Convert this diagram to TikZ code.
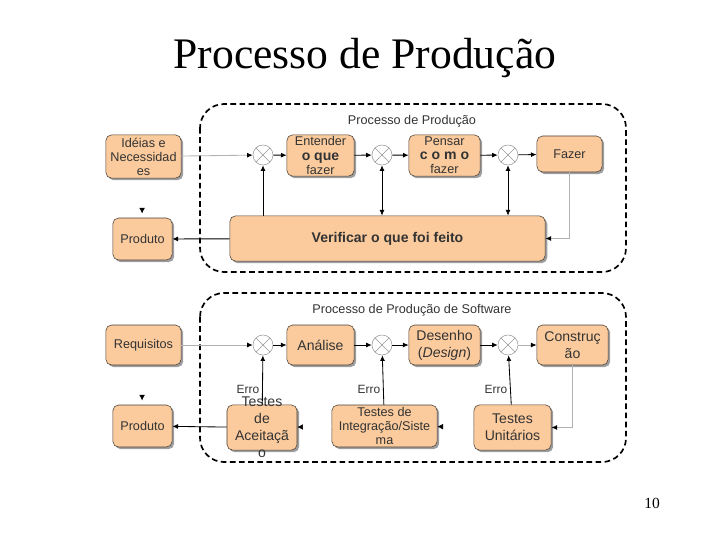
\documentclass[tikz,border=0pt]{standalone}
\usepackage{fontspec}
\setmainfont{Liberation Serif}
\setsansfont{Liberation Sans}
\usetikzlibrary{arrows.meta,shadows}

\definecolor{boxfill}{HTML}{FBCB9D}
\definecolor{boxline}{HTML}{4A3F36}
\definecolor{boxtext}{HTML}{333333}

\tikzset{
  box/.style={draw=boxline, fill=boxfill, rounded corners=4pt, align=center,
    inner sep=0pt, text=boxtext, font=\sffamily\fontsize{9}{10}\selectfont,
    drop shadow={shadow xshift=1.5pt, shadow yshift=-1.5pt, fill=gray!85, opacity=0.9}},
  sumnode/.style={circle, draw=gray!80, fill=white, minimum size=0.5cm, inner sep=0pt,
    path picture={
      \draw[gray!80] (path picture bounding box.north west) -- (path picture bounding box.south east);
      \draw[gray!80] (path picture bounding box.north east) -- (path picture bounding box.south west);
    }},
  frame/.style={draw, line width=1.2pt, dash pattern=on 4pt off 2.5pt, rounded corners=0.6cm},
  framelabel/.style={font=\sffamily\fontsize{9}{10}\selectfont, text=boxtext},
  link/.style={->, line width=0.6pt, >={Latex[length=4pt, width=3.5pt]}},
  faint/.style={link, draw=gray!60, >={Latex[length=4pt, width=3.5pt, color=black]}},
  ghost/.style={->, draw=white, >={Latex[length=4pt, width=4pt, color=black]}},
  errlabel/.style={font=\sffamily\fontsize{8.5}{9}\selectfont, text=boxtext, left, inner sep=2pt}
}

\begin{document}
\begin{tikzpicture}[x=0.025cm, y=-0.025cm]
    \useasboundingbox (0,0) rectangle (720,540);

    % Title and page number
    \node[font=\fontsize{31}{36}\selectfont] (title) at (365,58) {Processo de Produção};
    \node[font=\fontsize{11}{13}\selectfont] (page) at (652,503) {10};

    % Frames
    \draw[frame] (200,104) rectangle (626,272);
    \draw[frame] (200,293) rectangle (626,462);
    \node[framelabel] (lbltop) at (412,121) {Processo de Produção};
    \node[framelabel] (lblbot) at (412,310) {Processo de Produção de Software};

    % Upper process
    \node[box, minimum width=1.88cm, minimum height=1.08cm] (ideias) at (143.5,156.5) {Idéias e\\Necessidad\\es};
    \node[box, minimum width=1.48cm, minimum height=1.05cm] (produtoA) at (142.5,239) {Produto};
    \node[sumnode] (sumA1) at (263,155) {};
    \node[box, minimum width=1.68cm, minimum height=1.03cm] (entender) at (320.5,155.5) {Entender\\{\fontsize{10}{10}\selectfont\bfseries o que}\\fazer};
    \node[sumnode] (sumA2) at (382,155) {};
    \node[box, minimum width=1.78cm, minimum height=1.03cm] (pensar) at (444.5,155.5) {Pensar\\{\fontsize{10}{10}\selectfont\bfseries c o m o}\\fazer};
    \node[sumnode] (sumA3) at (508,155) {};
    \node[box, minimum width=1.63cm, minimum height=0.9cm] (fazer) at (569.5,154) {Fazer};
    \node[box, minimum width=7.88cm, minimum height=1.13cm, font=\sffamily\bfseries\fontsize{10}{12}\selectfont] (verificar) at (387.5,238.5) {Verificar o que foi feito};
    \coordinate (markA) at (142,202);

    % Upper connectors
    \draw[faint] (ideias) -- (sumA1);
    \draw[link] (sumA1) -- (entender);
    \draw[link] (entender) -- (sumA2);
    \draw[link] (sumA2) -- (pensar);
    \draw[link] (pensar) -- (sumA3);
    \draw[link] (sumA3) -- (fazer);
    \draw[link] (sumA1 |- verificar.north) -- (sumA1);
    \draw[link, <->] (sumA2) -- (sumA2 |- verificar.north);
    \draw[link, <->] (sumA3) -- (sumA3 |- verificar.north);
    \draw[faint] (fazer) |- (verificar);
    \draw[link] (verificar) -- (produtoA);
    \draw[ghost, shorten >=3pt] (markA) -- (produtoA);

    % Lower process
    \node[box, minimum width=1.88cm, minimum height=1.0cm] (requisitos) at (143.5,345) {Requisitos};
    \node[box, minimum width=1.48cm, minimum height=1.05cm] (produtoB) at (142.5,426) {Produto};
    \node[sumnode] (sumB1) at (263,345) {};
    \node[box, minimum width=1.68cm, minimum height=1.0cm, font=\sffamily\fontsize{10}{11}\selectfont] (analise) at (320.5,345) {Análise};
    \node[sumnode] (sumB2) at (382,345) {};
    \node[box, minimum width=1.78cm, minimum height=1.0cm, font=\sffamily\fontsize{10}{12}\selectfont] (desenho) at (444.5,345) {Desenho\\(\textit{Design})};
    \node[sumnode] (sumB3) at (508,345) {};
    \node[box, minimum width=1.78cm, minimum height=1.0cm, font=\sffamily\fontsize{10}{12}\selectfont] (construcao) at (572.5,345) {Construç\\ão};
    \node[box, minimum width=1.75cm, minimum height=1.13cm,
      label={[font=\sffamily\fontsize{10}{12}\selectfont, text=boxtext, align=center]center:Testes\\de\\Aceitaçã\\o}] (aceitacao) at (262,427.5) {};
    \node[box, minimum width=2.63cm, minimum height=1.05cm] (integracao) at (384.5,426) {Testes de\\Integração/Siste\\ma};
    \node[box, minimum width=1.93cm, minimum height=1.13cm, font=\sffamily\fontsize{10}{12}\selectfont] (unitarios) at (512.5,427.5) {Testes\\Unitários};
    \coordinate (markB) at (142,389);

    % Lower connectors
    \draw[faint] (requisitos) -- (sumB1);
    \draw[link] (sumB1) -- (analise);
    \draw[link] (analise) -- (sumB2);
    \draw[link] (sumB2) -- (desenho);
    \draw[link] (desenho) -- (sumB3);
    \draw[faint] (sumB3) -- (construcao);
    \draw[link] (aceitacao) -- (sumB1) node[errlabel, pos=0.3] {Erro};
    \draw[link] (integracao) -- (sumB2) node[errlabel, pos=0.3] {Erro};
    \draw[link] (unitarios) -- (sumB3) node[errlabel, pos=0.3] {Erro};
    \draw[faint] (construcao) |- (unitarios);
    \draw[ghost] (unitarios) -- (integracao);
    \draw[ghost] (integracao) -- (aceitacao);
    \draw[link] (aceitacao) -- (produtoB);
    \draw[ghost, shorten >=3pt] (markB) -- (produtoB);

\end{tikzpicture}
\end{document}
